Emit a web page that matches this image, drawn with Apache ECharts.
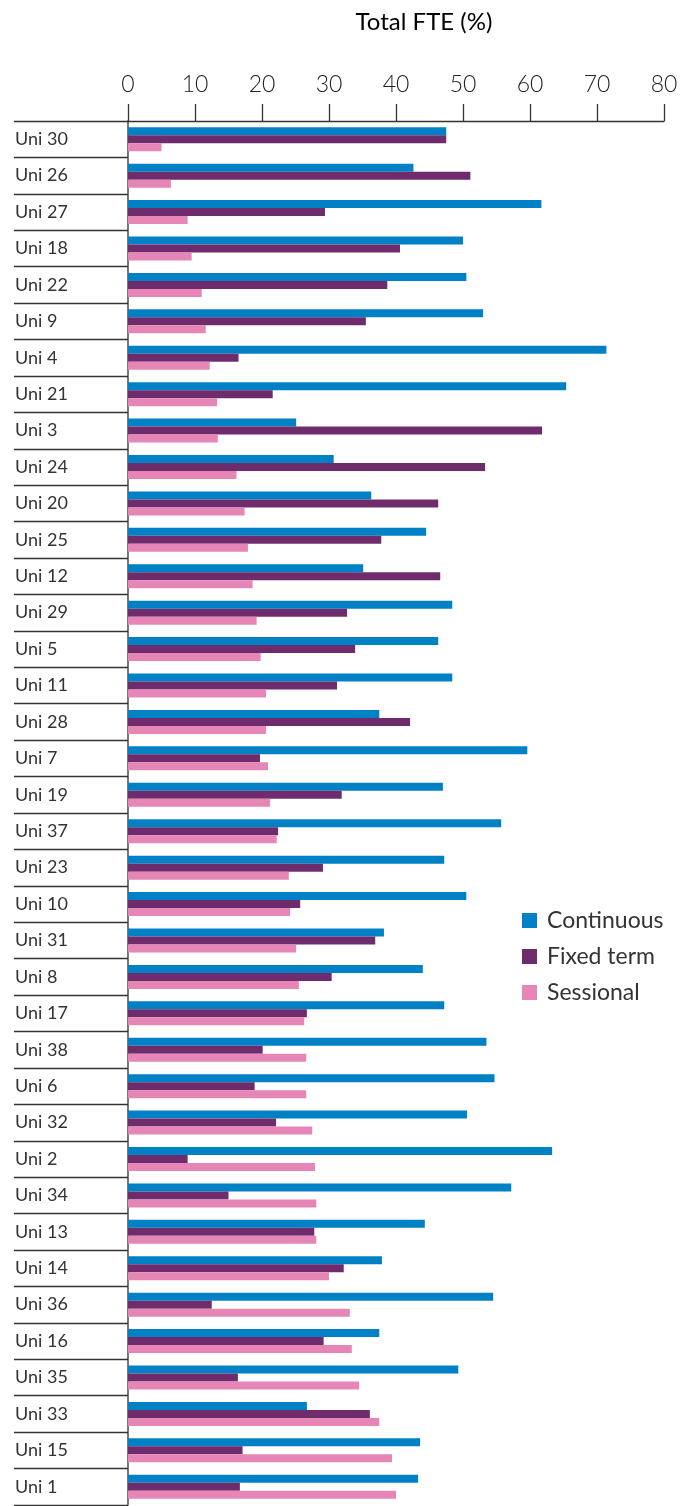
<!DOCTYPE html>
<html>
<head>
<meta charset="utf-8">
<script src="https://cdn.jsdelivr.net/npm/echarts@6/dist/echarts.min.js"></script>
<style>html,body{margin:0;padding:0;background:#fff}#c{width:691px;height:1506px}</style>
</head>
<body>
<div id="c"></div>
<script>
const categories = ["Uni 30","Uni 26","Uni 27","Uni 18","Uni 22","Uni 9","Uni 4","Uni 21","Uni 3","Uni 24","Uni 20","Uni 25","Uni 12","Uni 29","Uni 5","Uni 11","Uni 28","Uni 7","Uni 19","Uni 37","Uni 23","Uni 10","Uni 31","Uni 8","Uni 17","Uni 38","Uni 6","Uni 32","Uni 2","Uni 34","Uni 13","Uni 14","Uni 36","Uni 16","Uni 35","Uni 33","Uni 15","Uni 1"];
const continuous = [47.5,42.6,61.7,50.0,50.5,53.0,71.4,65.4,25.1,30.7,36.3,44.5,35.1,48.4,46.3,48.4,37.5,59.6,47.0,55.7,47.2,50.5,38.2,44.0,47.2,53.5,54.7,50.6,63.3,57.2,44.3,37.9,54.5,37.5,49.3,26.7,43.6,43.3];
const fixedTerm = [47.5,51.1,29.4,40.6,38.7,35.5,16.5,21.6,61.8,53.3,46.3,37.8,46.6,32.7,33.9,31.2,42.1,19.7,31.9,22.4,29.1,25.7,36.9,30.4,26.7,20.1,18.9,22.1,8.9,15.0,27.8,32.2,12.5,29.2,16.4,36.1,17.1,16.7];
const sessional = [5.0,6.4,8.9,9.5,11.0,11.6,12.2,13.3,13.4,16.2,17.4,17.9,18.6,19.2,19.8,20.6,20.6,20.9,21.2,22.2,24.0,24.2,25.1,25.5,26.3,26.6,26.6,27.5,27.9,28.1,28.1,30.0,33.1,33.4,34.5,37.5,39.4,40.0];
const seriesNames = ["Continuous","Fixed term","Sessional"];
const xTicks = {min: 0, max: 80, interval: 10};
const titleText = 'Total FTE (%)';

const FONT = 'Lato, "Open Sans", sans-serif';
const colors = ['#0081C6', '#6E2C6C', '#E586B7'];
const chart = echarts.init(document.getElementById('c'), null, {renderer: 'canvas'});
const mk = (name, data, i) => ({
  name, type: 'bar', data, barWidth: 8, barGap: '0%',
  itemStyle: {color: colors[i]}, animation: false
});
chart.setOption({
  animation: false,
  graphic: [{
    type: 'text', x: 424, y: 22, silent: true,
    style: {text: titleText, fontFamily: FONT, fontSize: 24, fontWeight: 'normal', fill: '#000',
            textAlign: 'center', textVerticalAlign: 'middle'}
  }],
  legend: {
    orient: 'vertical', left: 522, top: 909, padding: 0,
    itemWidth: 15, itemHeight: 15, itemGap: 13,
    icon: 'rect',
    textStyle: {fontFamily: FONT, fontSize: 23, color: '#333', lineHeight: 21, padding: [0,0,0,5]},
    data: seriesNames
  },
  grid: {left: 128, right: 27, top: 121, bottom: 1, containLabel: false},
  xAxis: {
    type: 'value', position: 'top', min: xTicks.min, max: xTicks.max, interval: xTicks.interval,
    axisLine: {show: true, lineStyle: {color: '#333', width: 1.3}},
    axisTick: {show: true, length: 17, lineStyle: {color: '#333', width: 1.3}},
    splitLine: {show: false},
    axisLabel: {fontFamily: FONT, fontSize: 23, fontWeight: 300, color: '#222', margin: 25}
  },
  yAxis: {
    type: 'category', inverse: true, data: categories,
    axisLine: {show: true, lineStyle: {color: '#555', width: 1.6}},
    axisTick: {show: true, length: 114, lineStyle: {color: '#333', width: 1.3}},
    axisLabel: {fontFamily: FONT, fontSize: 18, color: '#333', align: 'left', margin: 113}
  },
  series: [mk(seriesNames[0], continuous, 0), mk(seriesNames[1], fixedTerm, 1), mk(seriesNames[2], sessional, 2)]
});
</script>
</body>
</html>
